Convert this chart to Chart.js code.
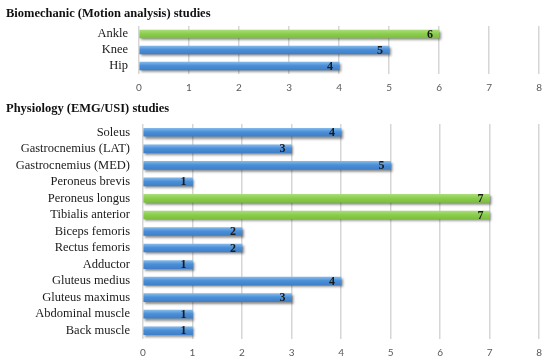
<!DOCTYPE html>
<html>
<head>
<meta charset="utf-8">
<script src="https://cdn.jsdelivr.net/npm/chart.js@4/dist/chart.umd.min.js"></script>
<style>
html,body{margin:0;padding:0;background:#fff;width:550px;height:361px;overflow:hidden;position:relative;}
#w1{position:absolute;left:0;top:0;width:550px;height:102px;}
#w2{position:absolute;left:0;top:97px;width:550px;height:270px;}
</style>
</head>
<body>
<div id="w1"><canvas id="c1"></canvas></div>
<div id="w2"><canvas id="c2"></canvas></div>
<script>
const bioTitle = 'Biomechanic (Motion analysis) studies';
const bioCategories = ['Ankle', 'Knee', 'Hip'];
const bioValues = [6, 5, 4];
const bioHighlight = [true, false, false];

const physTitle = 'Physiology (EMG/USI) studies';
const physCategories = ['Soleus', 'Gastrocnemius (LAT)', 'Gastrocnemius (MED)', 'Peroneus brevis', 'Peroneus longus', 'Tibialis anterior', 'Biceps femoris', 'Rectus femoris', 'Adductor', 'Gluteus medius', 'Gluteus maximus', 'Abdominal muscle', 'Back muscle'];
const physValues = [4, 3, 5, 1, 7, 7, 2, 2, 1, 4, 3, 1, 1];
const physHighlight = [false, false, false, false, true, true, false, false, false, false, false, false, false];

const xTicks = [0, 1, 2, 3, 4, 5, 6, 7, 8];

const BAR_H = 8;
const BLUE = ['#82b8ea', '#4a8fd8', '#3f80c8'];
const GREEN = ['#a9dc78', '#8ccf4d', '#7cbf40'];

function gradFill(highlight) {
  return function(ctx) {
    const chart = ctx.chart;
    const cols = highlight[ctx.dataIndex] ? GREEN : BLUE;
    const ys = chart.scales && chart.scales.y;
    if (!chart.chartArea || !ys || ctx.dataIndex === undefined) return cols[1];
    const y = ys.getPixelForValue(ctx.dataIndex);
    const g = chart.ctx.createLinearGradient(0, y - BAR_H / 2, 0, y + BAR_H / 2);
    g.addColorStop(0, cols[0]);
    g.addColorStop(0.45, cols[1]);
    g.addColorStop(1, cols[2]);
    return g;
  };
}

const shadowPlugin = {
  id: 'barShadow',
  beforeDatasetsDraw(chart) {
    const c = chart.ctx;
    c.save();
    c.shadowColor = 'rgba(0,0,0,0.45)';
    c.shadowOffsetX = 1.5;
    c.shadowOffsetY = 2;
    c.shadowBlur = 2.5;
  },
  afterDatasetsDraw(chart) {
    chart.ctx.restore();
    const c = chart.ctx;
    c.save();
    c.font = 'bold 12px "Liberation Serif", serif';
    c.fillStyle = '#1a1a1a';
    c.textAlign = 'right';
    c.textBaseline = 'middle';
    const meta = chart.getDatasetMeta(0);
    const data = chart.data.datasets[0].data;
    meta.data.forEach((el, i) => {
      c.fillText(String(data[i]), el.x - 6, el.y + 0.5);
    });
    c.restore();
  }
};

function makeChart(id, title, cats, vals, hl, opt) {
  return new Chart(document.getElementById(id), {
    type: 'bar',
    data: {
      labels: cats,
      datasets: [{
        data: vals,
        backgroundColor: gradFill(hl),
        borderWidth: 0,
        barThickness: BAR_H
      }]
    },
    options: {
      indexAxis: 'y',
      responsive: true,
      maintainAspectRatio: false,
      animation: false,
      events: [],
      layout: { padding: { left: 6, right: opt.right, top: 0, bottom: 0 } },
      plugins: {
        legend: { display: false },
        tooltip: { enabled: false },
        title: {
          display: true,
          text: title,
          align: 'start',
          color: '#111',
          font: { family: '"Liberation Serif", serif', size: 12.5, weight: 'bold' },
          padding: { top: opt.titleTop, bottom: opt.titleBottom }
        }
      },
      scales: {
        x: {
          min: 0, max: 8,
          afterBuildTicks(scale) { scale.ticks = xTicks.map(v => ({ value: v })); },
          grid: { color: '#d6d6d6', lineWidth: 1.5, drawTicks: false },
          border: { display: false },
          ticks: { color: '#595959', padding: 8, font: { family: 'Lato, sans-serif', size: 10 } }
        },
        y: {
          afterFit(scale) { scale.width = opt.yWidth; },
          grid: { display: false, drawTicks: false },
          border: { display: false },
          ticks: { autoSkip: false, color: '#1a1a1a', padding: opt.yPad, font: { family: '"Liberation Serif", serif', size: 12.5 } }
        }
      }
    },
    plugins: [shadowPlugin]
  });
}

makeChart('c1', bioTitle, bioCategories, bioValues, bioHighlight, { right: 8, yWidth: 133, yPad: 11, titleTop: 6.5, titleBottom: 4.5 });
makeChart('c2', physTitle, physCategories, physValues, physHighlight, { right: 8, yWidth: 137, yPad: 13, titleTop: 4, titleBottom: 8 });
</script>
</body>
</html>
